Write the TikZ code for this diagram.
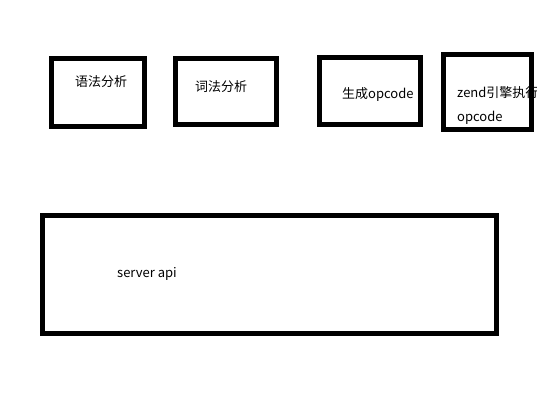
\documentclass[tikz,border=0pt]{standalone}
\usepackage{fontspec}
\newfontfamily\cjk{Noto Sans CJK SC}
\tikzset{
  box/.style={draw, line width=5pt, inner sep=0pt},
  txt/.style={anchor=west, inner sep=0pt, font=\cjk\fontsize{13}{15}\selectfont}
}
\begin{document}
\begin{tikzpicture}[x=1pt, y=-1pt]
\useasboundingbox (0,0) rectangle (537,414);
% texts first, boxes over them
\node[txt] (T1) at (75,81.5)  {语法分析};
\node[txt] (T2) at (195,86.5) {词法分析};
\node[txt] (T3) at (342,94.5) {生成opcode};
\node[txt] (T4) at (457,92.5) {zend引擎执行};
\node[txt] (T5) at (457,117.5) {opcode};
\node[txt] (T6) at (117,273.5) {server api};

\node[box, minimum width=92.5pt, minimum height=68pt]  (yufa) at (97.75,92.5) {};
\node[box, minimum width=101.5pt, minimum height=66pt] (cifa) at (225.75,92) {};
\node[box, minimum width=101pt, minimum height=67.5pt] (gen)  at (369.5,91.25) {};
\node[box, minimum width=88pt, minimum height=75pt]    (zend) at (487.5,92.5) {};
\node[box, minimum width=454pt, minimum height=118pt]  (sapi) at (269.5,274) {};
\end{tikzpicture}
\end{document}
